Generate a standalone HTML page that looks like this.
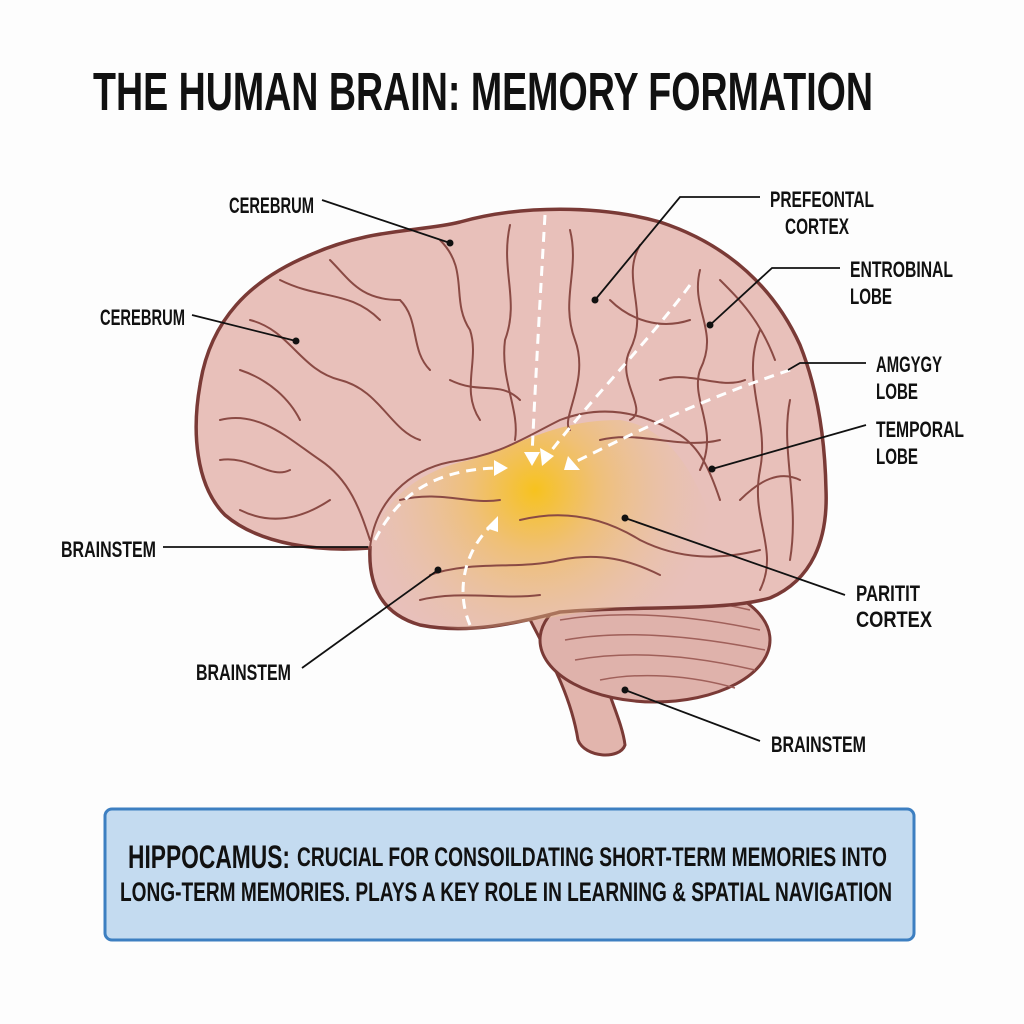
<!DOCTYPE html>
<html><head><meta charset="utf-8"><style>
html,body{margin:0;padding:0;background:#fdfdfd;}
svg{display:block}
text{font-family:"Liberation Sans Narrow","Liberation Sans",sans-serif;font-weight:bold;fill:#111}
</style></head><body>
<svg width="1024" height="1024" viewBox="0 0 1024 1024" xmlns="http://www.w3.org/2000/svg">
<defs>
<radialGradient id="glow" cx="535" cy="490" r="180" gradientUnits="userSpaceOnUse">
<stop offset="0" stop-color="#f7c21e"/>
<stop offset="0.35" stop-color="#f0c070" stop-opacity="0.9"/>
<stop offset="1" stop-color="#e8c4a8" stop-opacity="0"/>
</radialGradient>
</defs>
<rect width="1024" height="1024" fill="#fdfdfd"/>
<text x="93" y="110" font-size="54" textLength="780" lengthAdjust="spacingAndGlyphs">THE HUMAN BRAIN: MEMORY FORMATION</text>

<!-- brainstem -->
<path d="M520,600 C545,650 570,690 578,740 C585,758 620,760 625,745 C622,720 605,690 600,660 L580,610 Z" fill="#e2b5ad" stroke="#7a3a36" stroke-width="3"/>
<!-- cerebellum -->
<ellipse cx="655" cy="640" rx="115" ry="62" fill="#dfb2ab" stroke="#7a3a36" stroke-width="3"/>
<g stroke="#a0605a" stroke-width="1.5" fill="none">
<path d="M560,620 C620,610 690,615 760,630"/><path d="M565,640 C620,630 690,635 765,650"/><path d="M575,660 C630,650 690,655 755,670"/><path d="M600,680 C640,672 690,675 735,688"/><path d="M580,600 C630,592 690,596 750,610"/>
</g>
<!-- cerebrum -->
<path d="M370,548 C320,552 260,545 225,515 C195,485 192,430 200,385 C210,320 250,280 310,255 C370,228 420,232 460,222 C520,205 600,205 660,222 C730,245 775,290 800,345 C818,390 825,440 826,490 C828,540 812,580 770,598 C720,612 640,605 560,612 C520,622 470,635 420,625 C385,615 368,590 370,548 Z" fill="#e8c0ba" stroke="#7a3a36" stroke-width="3.5"/>
<path d="M370,548 C380,500 420,470 470,460 C530,440 560,420 620,420 C680,430 700,490 720,540 C740,580 700,600 640,605 C580,610 520,625 470,630 C420,628 375,600 370,548 Z" fill="url(#glow)"/>
<!-- gyri -->
<g stroke="#8a4a44" stroke-width="2" fill="none" stroke-linecap="round">
<path d="M370,548 C375,500 410,470 450,462 C500,455 520,440 560,420 C600,405 640,410 680,435 C700,448 710,470 720,500"/>
<path d="M440,240 C470,270 450,300 470,330 C480,360 460,390 480,420"/>
<path d="M510,225 C500,270 520,300 505,340 C500,380 520,410 515,440"/>
<path d="M570,230 C580,270 560,300 575,340 C590,380 560,420 570,430"/>
<path d="M640,245 C620,280 650,310 630,350 C615,380 650,410 630,420"/>
<path d="M700,270 C690,310 720,330 700,370 C690,400 720,430 700,470"/>
<path d="M250,320 C290,330 300,370 340,380 C380,390 390,430 420,440"/>
<path d="M220,420 C260,410 290,440 320,460 C350,480 360,510 370,540"/>
<path d="M280,280 C320,300 350,290 380,320"/>
<path d="M330,260 C350,280 360,300 400,300 C420,320 410,350 430,370"/>
<path d="M760,330 C740,380 770,420 760,470 C750,520 780,550 760,590"/>
<path d="M790,400 C780,450 800,500 790,560"/>
<path d="M720,280 C740,300 760,320 775,360"/>
<path d="M610,300 C630,320 660,330 690,320"/>
<path d="M450,380 C480,395 500,380 520,400"/>
<path d="M400,500 C440,490 470,505 500,500"/>
<path d="M430,575 C470,560 520,570 560,560 C600,552 630,560 660,575"/>
<path d="M520,520 C560,510 600,515 640,540 C680,560 720,560 760,550"/>
<path d="M420,600 C460,590 500,600 540,595"/>
<path d="M600,440 C640,430 680,450 720,440"/>
<path d="M330,500 C300,520 270,525 240,510"/>
<path d="M240,370 C270,380 290,400 300,420"/>
<path d="M220,460 C250,455 270,480 290,470"/>
<path d="M740,500 C760,480 780,470 800,480"/>
<path d="M660,380 C690,370 720,390 745,380"/>
</g>
<!-- dashed arrows -->
<g stroke="#fff" stroke-width="3" fill="none" stroke-dasharray="10,7">
<path d="M545,215 C540,300 535,390 532,455"/>
<path d="M690,285 C650,340 590,400 548,455"/>
<path d="M790,370 C700,400 640,430 575,462"/>
<path d="M375,540 C400,490 440,470 495,468"/>
<path d="M470,625 C455,590 465,550 492,525"/>
</g>
<g fill="#fff">
<path d="M524,452 L540,452 L532,466 Z"/><path d="M540,448 L554,456 L542,466 Z"/>
<path d="M568,456 L580,470 L564,470 Z"/><path d="M494,460 L508,468 L494,476 Z"/><path d="M486,528 L498,516 L498,532 Z"/>
</g>
<!-- leader lines -->
<g stroke="#111" stroke-width="1.8" fill="none">
<path d="M322,200 L450,243"/><path d="M192,315 L296,341"/>
<path d="M595,300 L680,197 L760,197"/><path d="M710,325 L772,268 L840,268"/>
<path d="M788,370 L800,363 L866,363"/><path d="M712,469 L866,425"/>
<path d="M163,547 L368,547"/><path d="M302,668 L438,570"/>
<path d="M625,518 L845,595"/><path d="M625,690 L760,741"/>
</g>
<g fill="#111">
<circle cx="450" cy="243" r="3.5"/><circle cx="296" cy="341" r="3.5"/><circle cx="595" cy="300" r="3.5"/><circle cx="710" cy="325" r="3.5"/><circle cx="712" cy="469" r="3.5"/><circle cx="438" cy="570" r="3.5"/><circle cx="625" cy="518" r="3.5"/><circle cx="625" cy="690" r="3.5"/>
</g>
<g font-size="22">
<text x="229" y="213" textLength="85" lengthAdjust="spacingAndGlyphs">CEREBRUM</text>
<text x="100" y="325" textLength="85" lengthAdjust="spacingAndGlyphs">CEREBRUM</text>
<text x="770" y="207" textLength="104" lengthAdjust="spacingAndGlyphs">PREFEONTAL</text>
<text x="785" y="234" textLength="64" lengthAdjust="spacingAndGlyphs">CORTEX</text>
<text x="850" y="277" textLength="103" lengthAdjust="spacingAndGlyphs">ENTROBINAL</text>
<text x="850" y="304" textLength="42" lengthAdjust="spacingAndGlyphs">LOBE</text>
<text x="876" y="372" textLength="66" lengthAdjust="spacingAndGlyphs">AMGYGY</text>
<text x="876" y="399" textLength="42" lengthAdjust="spacingAndGlyphs">LOBE</text>
<text x="876" y="437" textLength="88" lengthAdjust="spacingAndGlyphs">TEMPORAL</text>
<text x="876" y="464" textLength="42" lengthAdjust="spacingAndGlyphs">LOBE</text>
<text x="61" y="557" textLength="95" lengthAdjust="spacingAndGlyphs">BRAINSTEM</text>
<text x="196" y="680" textLength="95" lengthAdjust="spacingAndGlyphs">BRAINSTEM</text>
<text x="856" y="601" textLength="64" lengthAdjust="spacingAndGlyphs">PARITIT</text>
<text x="856" y="627" textLength="76" lengthAdjust="spacingAndGlyphs">CORTEX</text>
<text x="771" y="752" textLength="95" lengthAdjust="spacingAndGlyphs">BRAINSTEM</text>
</g>
<rect x="105" y="809" width="809" height="131" rx="7" fill="#c4dbf0" stroke="#3d7fc1" stroke-width="3"/>
<text x="128" y="868" font-size="32" textLength="162" lengthAdjust="spacingAndGlyphs">HIPPOCAMUS:</text>
<text x="297" y="866" font-size="27" textLength="590" lengthAdjust="spacingAndGlyphs">CRUCIAL FOR CONSOILDATING SHORT-TERM MEMORIES INTO</text>
<text x="120" y="901" font-size="27" textLength="772" lengthAdjust="spacingAndGlyphs">LONG-TERM MEMORIES. PLAYS A KEY ROLE IN LEARNING &amp; SPATIAL NAVIGATION</text>
</svg>
</body></html>
